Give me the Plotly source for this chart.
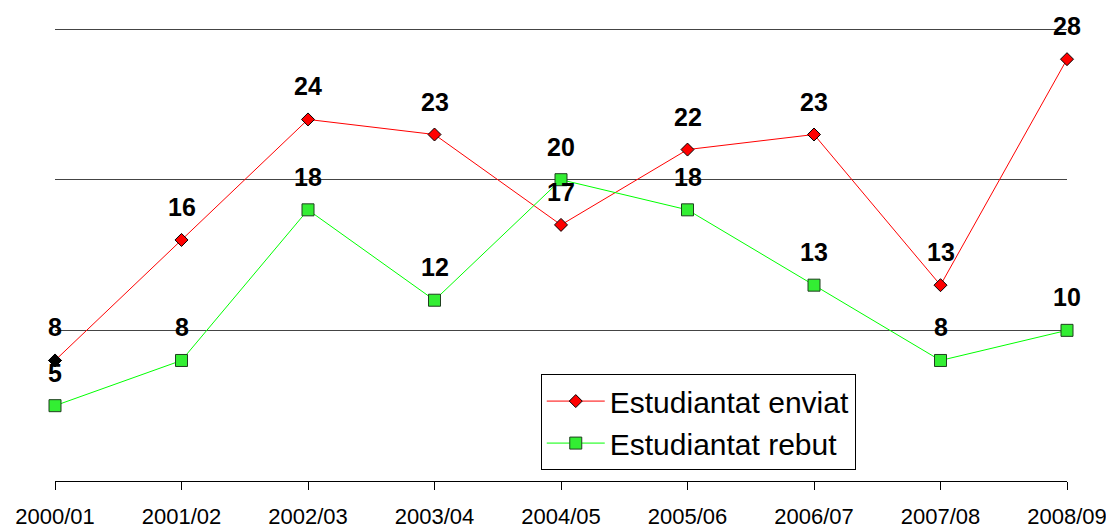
import plotly.graph_objects as go

years = ["2000/01", "2001/02", "2002/03", "2003/04", "2004/05",
         "2005/06", "2006/07", "2007/08", "2008/09"]
enviat = [8, 16, 24, 23, 17, 22, 23, 13, 28]
rebut = [5, 8, 18, 12, 20, 18, 13, 8, 10]
name_enviat = "Estudiantat enviat"
name_rebut = "Estudiantat rebut"

FONT = "Liberation Sans, Arial, sans-serif"

fig = go.Figure()
fig.add_trace(go.Scatter(
    x=years, y=enviat, name=name_enviat, mode="lines+markers",
    line=dict(color="#ff0000", width=1),
    marker=dict(symbol="diamond", size=10, color="#ff0000",
                line=dict(color="#000000", width=1)),
    cliponaxis=False,
))
fig.add_trace(go.Scatter(
    x=years, y=rebut, name=name_rebut, mode="lines+markers",
    line=dict(color="#00ff00", width=1),
    marker=dict(symbol="square", size=12, color="#33ee33",
                line=dict(color="#1f3f1f", width=1)),
    cliponaxis=False,
))
# first "enviat" marker appears black in the original
fig.add_trace(go.Scatter(
    x=years[:1], y=enviat[:1], mode="markers", showlegend=False,
    marker=dict(symbol="diamond", size=10, color="#000000",
                line=dict(color="#000000", width=1)),
    cliponaxis=False, hoverinfo="skip",
))

for series in (enviat, rebut):
    for xv, yv in zip(years, series):
        fig.add_annotation(x=xv, y=yv, text=f"<b>{yv}</b>", showarrow=False,
                           yshift=33, font=dict(family=FONT, size=25, color="#000000"))

# page body has an 8px margin, so the figure is drawn 8px smaller
fig.update_layout(
    width=1106, height=520,
    margin=dict(l=47, r=47, t=20, b=47),
    paper_bgcolor="white", plot_bgcolor="white",
    font=dict(family=FONT, color="#000000"),
    showlegend=True,
    legend=dict(
        x=0.48, y=0.236, xanchor="left", yanchor="top",
        bgcolor="white", bordercolor="#000000", borderwidth=1,
        font=dict(family=FONT, size=30, color="#000000"),
        itemwidth=58, tracegroupgap=0,
    ),
    xaxis=dict(
        type="category", range=[0, 8], automargin=False,
        showline=True, linecolor="#000000", linewidth=1,
        ticks="outside", ticklen=8, tickcolor="#000000",
        showgrid=False, zeroline=False,
        tickfont=dict(family=FONT, size=22, color="#000000"),
        ticklabelstandoff=8,
    ),
    yaxis=dict(
        range=[0, 30.07], tickvals=[10, 20, 30], showticklabels=False,
        automargin=False,
        showgrid=True, gridcolor="#444444", gridwidth=1,
        zeroline=False, showline=False,
    ),
)

fig.write_html("out.html")
